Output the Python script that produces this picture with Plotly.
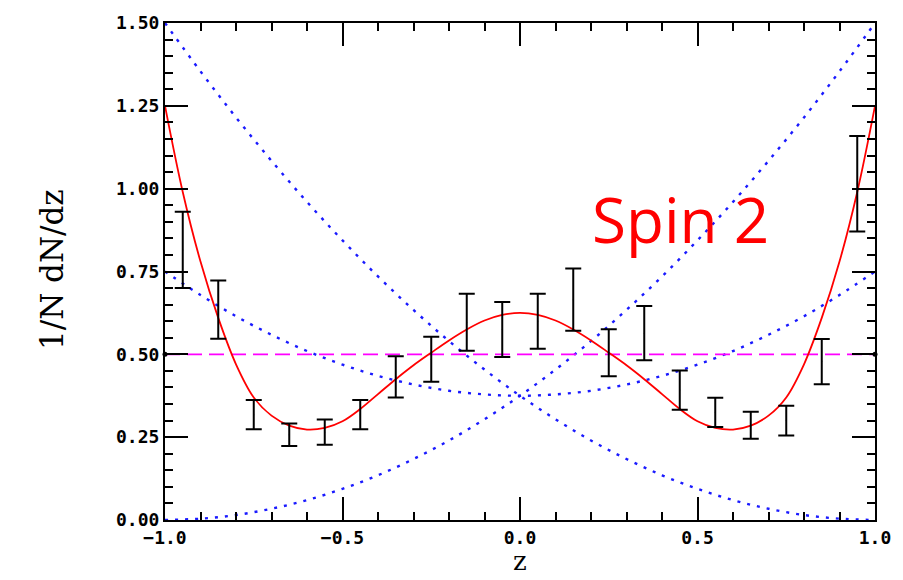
import plotly.graph_objects as go

# ---- data ----
z_bins = [-0.95, -0.85, -0.75, -0.65, -0.55, -0.45, -0.35, -0.25, -0.15, -0.05,
          0.05, 0.15, 0.25, 0.35, 0.45, 0.55, 0.65, 0.75, 0.85, 0.95]
counts = [0.815, 0.635, 0.318, 0.257, 0.265, 0.318, 0.432, 0.485, 0.597, 0.575,
          0.600, 0.665, 0.505, 0.564, 0.392, 0.325, 0.286, 0.300, 0.478, 1.015]
errors = [0.115, 0.088, 0.044, 0.034, 0.038, 0.044, 0.062, 0.068, 0.086, 0.083,
          0.083, 0.094, 0.071, 0.082, 0.059, 0.044, 0.041, 0.045, 0.068, 0.144]

z_fit = [-1.00, -0.95, -0.90, -0.85, -0.80, -0.75, -0.70, -0.65, -0.60, -0.55,
         -0.50, -0.45, -0.40, -0.35, -0.30, -0.25, -0.20, -0.15, -0.10, -0.05,
         0.00, 0.05, 0.10, 0.15, 0.20, 0.25, 0.30, 0.35, 0.40, 0.45,
         0.50, 0.55, 0.60, 0.65, 0.70, 0.75, 0.80, 0.85, 0.90, 0.95, 1.00]
spin2 = [1.25, 0.99, 0.78, 0.61, 0.47, 0.37, 0.315, 0.285, 0.273, 0.278,
         0.298, 0.335, 0.380, 0.425, 0.467, 0.505, 0.542, 0.575, 0.602, 0.619,
         0.625, 0.619, 0.602, 0.575, 0.542, 0.505, 0.467, 0.425, 0.380, 0.335,
         0.298, 0.278, 0.273, 0.285, 0.315, 0.37, 0.47, 0.61, 0.78, 0.99, 1.25]

z_curve = [-1.0, -0.9, -0.8, -0.7, -0.6, -0.5, -0.4, -0.3, -0.2, -0.1, 0.0,
           0.1, 0.2, 0.3, 0.4, 0.5, 0.6, 0.7, 0.8, 0.9, 1.0]
falling = [1.50, 1.354, 1.215, 1.084, 0.96, 0.844, 0.735, 0.634, 0.54, 0.454, 0.375,
           0.304, 0.24, 0.184, 0.135, 0.094, 0.06, 0.034, 0.015, 0.004, 0.0]
rising = list(reversed(falling))
bowl = [0.75, 0.679, 0.615, 0.559, 0.51, 0.469, 0.435, 0.409, 0.39, 0.379, 0.375,
        0.379, 0.39, 0.409, 0.435, 0.469, 0.51, 0.559, 0.615, 0.679, 0.75]

flat_z = [-1.0, 1.0]
flat_v = [0.5, 0.5]

x_ticks = [-1.0, -0.5, 0.0, 0.5, 1.0]
y_ticks = [0.0, 0.25, 0.5, 0.75, 1.0, 1.25, 1.5]

fig = go.Figure()

blue_dash = "3px,7px"
for vals in (falling, rising, bowl):
    fig.add_trace(go.Scatter(x=z_curve, y=vals, mode="lines",
                             line=dict(color="#1a1aff", width=2.4, dash=blue_dash, shape="spline"),
                             hoverinfo="skip", showlegend=False))

fig.add_trace(go.Scatter(x=flat_z, y=flat_v, mode="lines",
                         line=dict(color="#ff00ff", width=1.8, dash="15px,7px"),
                         showlegend=False))

fig.add_trace(go.Scatter(x=z_fit, y=spin2, mode="lines",
                         line=dict(color="#ff0000", width=1.8, shape="spline"),
                         showlegend=False))

fig.add_trace(go.Scatter(x=z_bins, y=counts, mode="markers",
                         marker=dict(size=1, color="black"),
                         error_y=dict(type="data", array=errors, visible=True,
                                      color="black", thickness=2, width=8),
                         showlegend=False))

fig.add_trace(go.Scatter(x=flat_z, y=flat_v, mode="markers",
                         marker=dict(size=5, color="black"),
                         cliponaxis=False, showlegend=False))

tickfont = dict(family="DejaVu Sans Mono", size=18, color="black", weight="bold")
axis_common = dict(showline=True, linecolor="black", linewidth=2, mirror="ticks",
                   ticks="inside", ticklen=23, tickwidth=2, tickcolor="black",
                   showgrid=False, zeroline=False, tickfont=tickfont)

fig.update_xaxes(range=[-1, 1], tickvals=x_ticks, tickformat=".1f",
                 minor=dict(ticks="inside", ticklen=8, tickwidth=2, dtick=0.1,
                            tickcolor="black", showgrid=False),
                 **axis_common)
fig.update_yaxes(range=[0, 1.5], tickvals=y_ticks, tickformat=".2f",
                 minor=dict(ticks="inside", ticklen=8, tickwidth=2, dtick=0.05,
                            tickcolor="black", showgrid=False),
                 **axis_common)

fig.add_annotation(text="1/N dN/dz", xref="paper", yref="paper",
                   x=-0.188, y=0.504, textangle=-90, showarrow=False,
                   font=dict(family="DejaVu Serif", size=31, color="black"))
fig.add_annotation(text="z", xref="paper", yref="paper", x=0.5, y=-0.116,
                   yanchor="bottom", showarrow=False,
                   font=dict(family="DejaVu Serif", size=26, color="black"))
fig.add_annotation(text="Spin 2", xref="paper", yref="paper", x=0.599, y=0.606,
                   xanchor="left", yanchor="middle", showarrow=False,
                   font=dict(family="Open Sans", size=62, color="#ff0000"))

fig.update_layout(width=903, height=580, margin=dict(l=165, r=26, t=12, b=60),
                  plot_bgcolor="white", paper_bgcolor="white")

fig.write_html("out.html")
